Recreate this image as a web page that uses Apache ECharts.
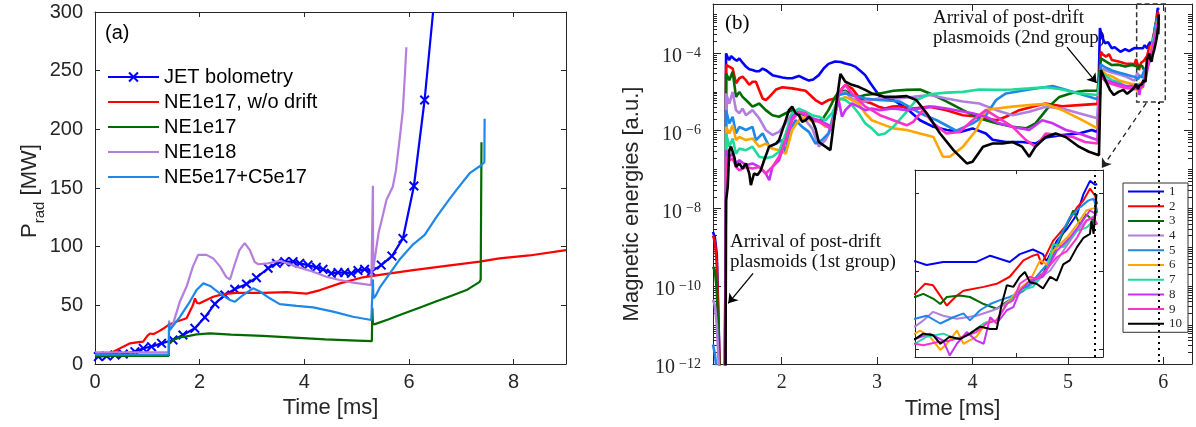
<!DOCTYPE html>
<html><head><meta charset="utf-8">
<script src="https://cdn.jsdelivr.net/npm/echarts@6.0.0/dist/echarts.min.js"></script>
<style>html,body{margin:0;padding:0;background:#fff}#c{width:1196px;height:427px}</style>
</head><body><div id="c"></div>
<script>
// ---------------- Panel (a): radiated power [MW] vs time [ms] ----------------
const leftXTicks = [0, 2, 4, 6, 8];
const leftYTicks = [0, 50, 100, 150, 200, 250, 300];
const jetBolometry = [[0.064,6.3],[0.223,6.8],[0.382,7.7],[0.54,8.5],[0.763,10.5],[0.922,13.4],[1.08,14.8],[1.272,17.6],[1.49,20.5],[1.68,24.7],[1.908,30.4],[2.099,39.8],[2.29,51.2],[2.48,58.8],[2.67,63.7],[2.894,68.2],[3.085,73.6],[3.308,81.6],[3.467,85.8],[3.626,87.2],[3.785,87.2],[3.912,85.8],[4.07,84.3],[4.23,82.4],[4.357,80.7],[4.516,77.3],[4.643,77.9],[4.77,77.9],[4.898,77.3],[5.025,79.6],[5.152,80.7],[5.28,78.7],[5.47,84.3],[5.674,92],[5.884,107],[6.094,151.7],[6.298,225],[6.46,300]];
const ne1e17NoDrift = [[0,8],[0.3,9],[0.35,10.5],[0.54,14.8],[0.67,17.6],[0.8,18.5],[0.92,19],[1.0,24],[1.05,26],[1.12,25.5],[1.21,27.6],[1.3,30],[1.4,33.2],[1.55,36],[1.75,39],[1.81,44.6],[1.87,50],[1.91,55.9],[1.95,52],[2.0,51.7],[2.13,54.5],[2.26,57.3],[2.45,59.5],[2.7,60.6],[3.21,60.6],[3.66,61.2],[4.04,60],[4.29,62.8],[4.68,68.7],[5.12,73.9],[5.44,75.9],[6.08,80],[6.71,83.6],[7.35,87.2],[7.73,90],[8.3,92.5],[9.0,97]];
const ne1e17 = [[0,7],[1.41,7],[1.415,20],[1.43,17.5],[1.49,20.5],[1.62,22.7],[1.8,24],[1.94,25.3],[2.2,26.1],[2.6,25],[3.2,24],[3.8,22.5],[4.4,21],[5.0,20],[5.29,19.5],[5.30,48],[5.31,34],[5.35,34],[5.6,38],[5.9,43],[6.2,48],[6.5,53],[6.8,58],[7.1,63],[7.35,70],[7.37,72],[7.385,189]];
const ne1e18 = [[0,10],[1.41,10],[1.415,37],[1.43,30],[1.49,34],[1.62,53],[1.75,66],[1.87,83],[1.97,93],[2.13,93],[2.26,90],[2.39,83],[2.51,74],[2.58,72],[2.67,85],[2.76,97],[2.86,103],[2.96,97],[3.05,87],[3.12,85],[3.3,85.8],[3.53,88],[3.85,83],[4.17,78.6],[4.42,74.4],[4.67,71.6],[4.93,69.3],[5.28,67.3],[5.30,67],[5.31,152],[5.315,80],[5.33,85],[5.42,112],[5.48,123],[5.57,140],[5.69,151],[5.75,165],[5.82,191],[5.88,215],[5.92,245],[5.95,270]];
const ne5e17c5e17 = [[0,8],[1.41,8],[1.415,35],[1.43,29],[1.62,40],[1.81,53],[1.94,63],[2.07,68.7],[2.2,66.5],[2.39,60],[2.58,54.5],[2.67,53],[2.83,58.8],[3.02,64.5],[3.15,61.8],[3.34,56],[3.53,51],[3.85,49.5],[4.17,48.3],[4.55,44.6],[4.93,40.3],[5.28,37.5],[5.30,37],[5.31,72],[5.32,56],[5.36,58],[5.44,65],[5.63,77],[5.82,89],[6.08,102],[6.3,110],[6.52,125],[6.78,141],[6.9,148],[7.16,162.6],[7.385,169.6],[7.44,172],[7.445,209]];
const leftNames = ['JET bolometry','NE1e17, w/o drift','NE1e17','NE1e18','NE5e17+C5e17'];
const leftColors = ['#0000FF','#FF0000','#006B00','#B57EDC','#1E88E8'];

// ---------------- Panel (b): log10 of magnetic energies [a.u.] vs time [ms] ----------------
const rightXTicks = [2, 3, 4, 5, 6];
const rightYLabelExp = [-12, -10, -8, -6, -4];
const insetXTicks = [5.84];
const insetYTicks = [-5, -4, -3];
const mode1 = [[1.28,-8.6],[1.30,-8.75],[1.32,-9.2],[1.36,-13],[1.405,-13],[1.417,-4.01],[1.435,-4.12],[1.451,-4.18],[1.47,-4.08],[1.50,-4.15],[1.53,-4.2],[1.556,-4.14],[1.59,-4.25],[1.625,-4.35],[1.66,-4.42],[1.694,-4.44],[1.73,-4.47],[1.764,-4.47],[1.80,-4.40],[1.84,-4.45],[1.903,-4.57],[1.95,-4.6],[2.007,-4.63],[2.06,-4.65],[2.11,-4.65],[2.18,-4.59],[2.23,-4.65],[2.285,-4.71],[2.33,-4.68],[2.389,-4.57],[2.44,-4.40],[2.49,-4.28],[2.56,-4.22],[2.62,-4.23],[2.667,-4.27],[2.72,-4.30],[2.77,-4.35],[2.82,-4.45],[2.875,-4.57],[2.93,-4.78],[2.98,-4.95],[3.03,-5.12],[3.17,-5.21],[3.31,-5.43],[3.45,-5.73],[3.59,-5.90],[3.73,-5.98],[3.87,-6.03],[4.0,-5.94],[4.14,-6.07],[4.21,-6.23],[4.35,-6.29],[4.52,-6.29],[4.66,-6.33],[4.77,-6.17],[4.94,-6.11],[5.115,-6.07],[5.25,-5.98],[5.31,-6.03],[5.335,-3.36],[5.36,-3.62],[5.39,-3.75],[5.42,-3.72],[5.46,-3.88],[5.49,-3.85],[5.51,-3.84],[5.55,-3.97],[5.60,-3.90],[5.64,-3.95],[5.67,-3.91],[5.70,-3.87],[5.716,-3.92],[5.739,-3.88],[5.785,-3.88],[5.804,-3.80],[5.831,-3.88],[5.845,-3.78],[5.863,-3.72],[5.877,-3.78],[5.882,-3.87],[5.896,-3.61],[5.91,-3.46],[5.924,-3.27],[5.933,-3.01],[5.942,-2.84],[5.949,-2.89],[5.952,-2.88]];
const mode2 = [[1.28,-8.7],[1.30,-8.85],[1.32,-9.4],[1.36,-13],[1.405,-13],[1.417,-4.31],[1.451,-4.35],[1.486,-4.40],[1.521,-4.78],[1.556,-4.65],[1.59,-4.61],[1.625,-4.70],[1.66,-4.82],[1.694,-4.74],[1.73,-4.74],[1.764,-4.95],[1.80,-5.17],[1.833,-5.21],[1.87,-5.13],[1.94,-4.94],[2.007,-4.88],[2.11,-4.91],[2.25,-4.97],[2.354,-5.21],[2.42,-5.31],[2.49,-5.21],[2.56,-5.17],[2.632,-4.91],[2.667,-4.82],[2.736,-4.91],[2.806,-5.13],[2.875,-5.25],[2.944,-5.30],[3.014,-5.38],[3.083,-5.43],[3.153,-5.38],[3.22,-5.37],[3.378,-5.43],[3.55,-5.38],[3.726,-5.47],[3.90,-5.60],[4.07,-5.64],[4.25,-5.73],[4.35,-5.64],[4.49,-5.47],[4.63,-5.38],[4.767,-5.30],[4.94,-5.37],[5.115,-5.34],[5.31,-5.31],[5.345,-3.97],[5.37,-4.05],[5.40,-4.09],[5.43,-4.03],[5.46,-4.18],[5.53,-4.22],[5.60,-4.27],[5.67,-4.28],[5.70,-4.29],[5.714,-4.16],[5.725,-4.18],[5.739,-4.37],[5.744,-4.44],[5.758,-4.31],[5.767,-4.25],[5.795,-4.20],[5.813,-4.16],[5.831,-4.07],[5.85,-3.86],[5.863,-3.80],[5.87,-3.78],[5.875,-3.91],[5.891,-3.61],[5.91,-3.40],[5.924,-3.18],[5.933,-3.09],[5.942,-2.94],[5.949,-3.03],[5.952,-3.14]];
const mode3 = [[1.28,-9.5],[1.30,-9.6],[1.32,-10.1],[1.36,-13],[1.405,-13],[1.417,-4.52],[1.451,-4.70],[1.486,-4.48],[1.521,-5.13],[1.556,-5.0],[1.59,-5.13],[1.625,-5.21],[1.694,-5.38],[1.764,-5.30],[1.833,-5.47],[1.903,-5.60],[1.972,-5.64],[2.042,-5.55],[2.11,-5.47],[2.18,-5.55],[2.25,-5.60],[2.354,-5.73],[2.42,-5.73],[2.49,-5.47],[2.56,-5.13],[2.597,-5.0],[2.667,-4.97],[2.736,-5.08],[2.806,-5.13],[2.875,-5.08],[2.944,-5.06],[3.03,-5.04],[3.17,-4.97],[3.31,-4.95],[3.45,-4.94],[3.59,-5.08],[3.73,-5.25],[3.90,-5.47],[4.07,-5.68],[4.25,-5.81],[4.42,-5.90],[4.56,-5.94],[4.66,-5.81],[4.80,-5.38],[4.91,-5.13],[5.05,-5.02],[5.18,-4.97],[5.31,-4.97],[5.345,-4.14],[5.40,-4.22],[5.46,-4.31],[5.53,-4.30],[5.60,-4.35],[5.67,-4.31],[5.70,-4.33],[5.7115,-4.29],[5.725,-4.35],[5.735,-4.42],[5.744,-4.33],[5.762,-4.31],[5.776,-4.33],[5.795,-4.42],[5.813,-4.48],[5.822,-4.42],[5.841,-4.31],[5.854,-4.20],[5.877,-4.03],[5.896,-3.69],[5.91,-3.40],[5.919,-3.22],[5.928,-3.40],[5.937,-3.27],[5.947,-3.35],[5.952,-3.22]];
const mode4 = [[1.28,-10.35],[1.30,-10.5],[1.32,-11.0],[1.36,-13],[1.405,-13],[1.417,-5.04],[1.451,-5.30],[1.486,-5.0],[1.521,-5.47],[1.556,-5.55],[1.59,-5.43],[1.625,-5.60],[1.694,-5.47],[1.764,-5.68],[1.833,-5.98],[1.903,-6.11],[1.972,-6.03],[2.042,-5.81],[2.11,-5.55],[2.18,-5.60],[2.25,-5.73],[2.319,-5.94],[2.389,-6.41],[2.458,-6.24],[2.528,-5.90],[2.597,-5.04],[2.667,-5.0],[2.736,-5.17],[2.806,-5.25],[2.875,-5.25],[2.944,-5.21],[3.083,-5.13],[3.205,-5.17],[3.378,-5.13],[3.55,-5.08],[3.726,-5.17],[3.90,-5.25],[4.07,-5.30],[4.25,-5.47],[4.42,-5.60],[4.594,-5.51],[4.767,-5.38],[4.94,-5.43],[5.115,-5.55],[5.31,-5.68],[5.345,-4.40],[5.40,-4.45],[5.46,-4.50],[5.53,-4.55],[5.60,-4.60],[5.67,-4.68],[5.70,-4.71],[5.7115,-4.63],[5.725,-4.52],[5.739,-4.57],[5.758,-4.61],[5.785,-4.57],[5.808,-4.50],[5.822,-4.44],[5.831,-4.37],[5.85,-4.25],[5.868,-4.12],[5.887,-3.99],[5.905,-3.74],[5.924,-3.48],[5.937,-3.35],[5.952,-3.27]];
const mode5 = [[1.28,-11.5],[1.30,-11.75],[1.32,-12.2],[1.36,-13],[1.405,-13],[1.417,-5.47],[1.451,-5.81],[1.486,-5.64],[1.521,-6.07],[1.556,-5.90],[1.625,-5.98],[1.694,-5.90],[1.73,-6.24],[1.80,-6.07],[1.87,-6.41],[1.94,-6.33],[2.007,-6.24],[2.042,-6.59],[2.076,-6.03],[2.146,-5.73],[2.215,-5.90],[2.285,-6.03],[2.354,-6.33],[2.42,-6.24],[2.49,-6.07],[2.597,-5.08],[2.667,-5.04],[2.736,-5.08],[2.875,-5.17],[3.014,-5.21],[3.153,-5.23],[3.24,-5.25],[3.45,-5.55],[3.625,-5.73],[3.83,-6.0],[4.0,-5.81],[4.14,-5.60],[4.247,-5.21],[4.35,-5.04],[4.594,-4.94],[4.84,-4.85],[5.05,-5.0],[5.31,-5.19],[5.345,-4.30],[5.40,-4.38],[5.46,-4.45],[5.53,-4.50],[5.60,-4.55],[5.67,-4.60],[5.70,-4.61],[5.716,-4.57],[5.735,-4.67],[5.753,-4.59],[5.767,-4.54],[5.776,-4.63],[5.79,-4.50],[5.804,-4.42],[5.8175,-4.37],[5.831,-4.33],[5.85,-4.25],[5.868,-4.07],[5.887,-3.86],[5.90,-3.57],[5.914,-3.31],[5.928,-3.18],[5.94,-3.09],[5.947,-3.07],[5.952,-3.22]];
const mode6 = [[1.28,-12.5],[1.36,-13],[1.405,-13],[1.417,-5.90],[1.451,-6.07],[1.486,-5.86],[1.521,-6.24],[1.556,-6.16],[1.625,-6.24],[1.694,-6.20],[1.764,-6.41],[1.833,-6.33],[1.903,-6.46],[1.972,-6.50],[2.042,-6.59],[2.11,-5.98],[2.18,-5.73],[2.25,-5.64],[2.319,-5.77],[2.389,-5.73],[2.458,-5.90],[2.528,-5.86],[2.597,-5.21],[2.667,-5.13],[2.736,-5.21],[2.806,-5.30],[2.875,-5.55],[2.944,-5.73],[3.03,-5.81],[3.17,-5.94],[3.31,-5.98],[3.45,-6.07],[3.59,-6.16],[3.69,-6.67],[3.76,-6.67],[3.90,-6.41],[4.04,-5.98],[4.14,-5.47],[4.25,-5.43],[4.42,-5.38],[4.594,-5.34],[4.767,-5.31],[4.94,-5.47],[5.115,-5.68],[5.31,-5.94],[5.345,-4.45],[5.40,-4.55],[5.46,-4.60],[5.53,-4.70],[5.60,-4.75],[5.67,-4.80],[5.70,-4.80],[5.707,-4.76],[5.7207,-4.84],[5.735,-5.01],[5.744,-4.93],[5.758,-4.76],[5.767,-4.93],[5.785,-4.84],[5.799,-4.65],[5.813,-4.63],[5.827,-4.42],[5.841,-4.25],[5.859,-4.12],[5.873,-3.86],[5.882,-3.91],[5.891,-3.74],[5.91,-3.57],[5.924,-3.40],[5.937,-3.22],[5.951,-3.18]];
const mode7 = [[1.28,-12.5],[1.36,-13],[1.405,-13],[1.417,-6.07],[1.451,-6.41],[1.486,-6.20],[1.521,-6.59],[1.556,-6.46],[1.625,-6.50],[1.694,-6.41],[1.764,-6.67],[1.833,-6.71],[1.903,-6.67],[1.972,-6.54],[2.042,-6.07],[2.11,-5.55],[2.18,-5.43],[2.25,-5.51],[2.319,-5.60],[2.389,-5.64],[2.458,-5.73],[2.528,-5.55],[2.597,-5.17],[2.667,-5.21],[2.736,-5.34],[2.806,-5.55],[2.875,-5.81],[2.944,-5.94],[3.014,-6.11],[3.083,-6.07],[3.17,-5.90],[3.31,-5.51],[3.41,-5.21],[3.55,-5.06],[3.726,-5.02],[3.90,-5.0],[4.07,-4.94],[4.25,-4.95],[4.42,-4.94],[4.594,-4.91],[4.767,-4.88],[4.94,-4.94],[5.115,-5.04],[5.31,-5.08],[5.345,-4.50],[5.40,-4.60],[5.46,-4.70],[5.53,-4.75],[5.60,-4.85],[5.67,-4.90],[5.70,-4.93],[5.716,-4.84],[5.739,-4.80],[5.758,-4.87],[5.776,-4.80],[5.795,-4.67],[5.813,-4.63],[5.827,-4.42],[5.845,-4.25],[5.863,-4.20],[5.882,-3.99],[5.891,-3.65],[5.905,-3.69],[5.924,-3.48],[5.937,-3.44],[5.947,-3.35],[5.952,-3.40]];
const mode8 = [[1.28,-12.5],[1.36,-13],[1.405,-13],[1.417,-6.50],[1.451,-6.67],[1.486,-6.59],[1.521,-6.84],[1.556,-6.76],[1.625,-6.89],[1.694,-6.84],[1.764,-6.93],[1.833,-7.10],[1.87,-7.27],[1.903,-6.93],[1.972,-6.76],[2.042,-6.24],[2.11,-5.64],[2.18,-5.51],[2.25,-5.60],[2.319,-5.68],[2.389,-5.73],[2.458,-5.81],[2.528,-5.90],[2.597,-5.21],[2.632,-5.64],[2.667,-5.47],[2.736,-5.30],[2.806,-5.38],[2.875,-5.47],[2.944,-5.43],[3.03,-5.47],[3.17,-5.43],[3.31,-5.47],[3.45,-5.43],[3.59,-5.38],[3.726,-5.43],[3.865,-5.49],[4.0,-5.55],[4.14,-5.64],[4.28,-5.81],[4.42,-5.90],[4.594,-5.98],[4.73,-5.73],[4.84,-5.81],[4.98,-5.98],[5.115,-6.07],[5.31,-6.24],[5.345,-4.55],[5.40,-4.70],[5.46,-4.75],[5.53,-4.80],[5.60,-4.85],[5.67,-4.85],[5.70,-4.87],[5.7207,-4.80],[5.739,-4.89],[5.748,-5.08],[5.758,-4.93],[5.7715,-4.78],[5.785,-4.89],[5.795,-4.93],[5.804,-4.59],[5.813,-4.67],[5.827,-4.50],[5.836,-4.46],[5.845,-4.25],[5.859,-4.12],[5.877,-4.07],[5.896,-3.74],[5.914,-3.57],[5.928,-3.40],[5.942,-3.22],[5.951,-3.27]];
const mode9 = [[1.28,-12.5],[1.36,-13],[1.405,-13],[1.417,-6.67],[1.451,-6.76],[1.486,-6.71],[1.521,-6.93],[1.556,-7.02],[1.625,-6.93],[1.694,-6.97],[1.764,-6.93],[1.833,-7.10],[1.903,-6.93],[1.972,-6.67],[2.042,-6.24],[2.11,-5.73],[2.18,-5.51],[2.25,-5.55],[2.319,-5.73],[2.389,-5.77],[2.458,-5.86],[2.528,-5.98],[2.597,-5.04],[2.667,-4.82],[2.736,-5.04],[2.806,-5.21],[2.875,-5.38],[2.944,-5.47],[3.03,-5.60],[3.17,-5.73],[3.31,-5.86],[3.378,-5.77],[3.48,-5.47],[3.59,-5.81],[3.726,-6.07],[3.865,-6.03],[4.0,-5.73],[4.14,-5.47],[4.28,-5.68],[4.42,-5.90],[4.56,-6.24],[4.66,-6.41],[4.767,-6.07],[4.91,-6.11],[5.05,-6.16],[5.18,-6.29],[5.31,-6.33],[5.345,-4.60],[5.40,-4.75],[5.46,-4.80],[5.53,-4.85],[5.60,-4.90],[5.67,-4.92],[5.70,-4.93],[5.7115,-4.95],[5.73,-4.91],[5.748,-4.89],[5.767,-4.84],[5.785,-4.78],[5.799,-4.67],[5.813,-4.63],[5.827,-4.42],[5.836,-4.37],[5.845,-4.16],[5.859,-4.07],[5.868,-4.10],[5.877,-4.03],[5.896,-3.82],[5.91,-3.74],[5.924,-3.57],[5.937,-3.35],[5.947,-3.31],[5.952,-3.40]];
const mode10 = [[1.28,-12.5],[1.36,-13],[1.41,-13],[1.417,-7.79],[1.434,-7.45],[1.451,-6.50],[1.469,-6.41],[1.503,-6.67],[1.521,-6.93],[1.556,-6.84],[1.59,-6.97],[1.625,-6.84],[1.66,-7.10],[1.677,-7.40],[1.71,-7.10],[1.746,-7.14],[1.78,-7.02],[1.816,-6.76],[1.868,-6.41],[1.94,-6.33],[1.972,-6.24],[2.042,-5.73],[2.076,-5.47],[2.11,-5.38],[2.146,-5.55],[2.18,-5.60],[2.215,-5.77],[2.25,-5.73],[2.285,-5.64],[2.319,-5.73],[2.354,-5.94],[2.389,-6.29],[2.458,-6.41],[2.51,-6.50],[2.563,-5.47],[2.615,-4.54],[2.667,-4.74],[2.736,-4.82],[2.806,-4.87],[2.875,-4.95],[2.944,-5.04],[3.014,-5.08],[3.083,-5.13],[3.19,-5.13],[3.31,-5.11],[3.41,-5.21],[3.52,-5.55],[3.66,-6.07],[3.80,-6.50],[3.94,-6.84],[4.0,-6.80],[4.11,-6.41],[4.21,-6.33],[4.316,-6.33],[4.42,-6.29],[4.52,-6.41],[4.594,-6.67],[4.66,-6.41],[4.767,-6.16],[4.87,-6.07],[4.976,-6.16],[5.115,-6.41],[5.22,-6.54],[5.325,-6.63],[5.345,-4.44],[5.39,-4.69],[5.44,-4.95],[5.48,-5.08],[5.53,-5.0],[5.58,-4.95],[5.62,-5.05],[5.67,-4.95],[5.70,-4.87],[5.7115,-4.80],[5.725,-4.82],[5.735,-4.93],[5.748,-4.84],[5.762,-4.87],[5.776,-4.80],[5.79,-4.71],[5.804,-4.74],[5.813,-4.74],[5.82,-4.42],[5.827,-4.18],[5.836,-4.20],[5.845,-4.07],[5.852,-4.01],[5.859,-4.14],[5.868,-4.16],[5.877,-4.22],[5.887,-4.07],[5.896,-4.12],[5.905,-3.91],[5.914,-3.86],[5.924,-3.69],[5.933,-3.57],[5.942,-3.52],[5.944,-3.35],[5.947,-3.52],[5.951,-3.01]];
const modeNames = ['1','2','3','4','5','6','7','8','9','10'];
const modeColors = ['#0000FF','#FF0000','#006B00','#B27FE0','#1E88E8','#FFA500','#1EDB9A','#C832F5','#FF32C8','#000000'];
const modes = [mode1,mode2,mode3,mode4,mode5,mode6,mode7,mode8,mode9,mode10];

// ---------------- styling ----------------
const SANS = "'Liberation Sans', Arial, Helvetica, sans-serif";
const SERIF = "'Liberation Serif', 'Times New Roman', Times, serif";
const AX = '#262626';
const NOFILL = 'rgba(0,0,0,0)';

// log-decade minor tick positions (k x 10^n) for the log axis of panel (b)
const minorTicks = [];
for (let n = -12; n <= -3; n++) for (let k = 1; k <= 9; k++) { const v = n + Math.log10(k); if (v <= -2.74) minorTicks.push(v); }

const chart = echarts.init(document.getElementById('c'), null, {renderer: 'canvas'});

function axisBase(grid, min, max, extra) {
  return Object.assign({
    gridIndex: grid, type: 'value', min: min, max: max, scale: true,
    splitLine: {show: false},
    axisLine: {onZero: false, lineStyle: {color: AX, width: 1}},
    axisTick: {inside: true, length: 5, lineStyle: {color: AX, width: 1}},
    axisLabel: {show: false}
  }, extra);
}

const xAxes = [
  axisBase(0, 0, 9, {position: 'bottom',
    axisTick: {inside: true, length: 5, customValues: leftXTicks, lineStyle: {color: AX}},
    axisLabel: {show: true, customValues: leftXTicks, fontFamily: SANS, fontSize: 20, color: AX, margin: 8},
    name: 'Time [ms]', nameLocation: 'middle', nameGap: 32, nameTextStyle: {fontFamily: SANS, fontSize: 22, color: AX}}),
  axisBase(0, 0, 9, {position: 'top', axisTick: {inside: true, length: 5, customValues: leftXTicks, lineStyle: {color: AX}}}),
  axisBase(1, 1.28, 6.3, {position: 'bottom',
    axisTick: {inside: true, length: 7, customValues: rightXTicks, lineStyle: {color: AX}},
    axisLabel: {show: true, customValues: rightXTicks, fontFamily: SERIF, fontSize: 20, color: AX, margin: 9},
    name: 'Time [ms]', nameLocation: 'middle', nameGap: 31, nameTextStyle: {fontFamily: SANS, fontSize: 22, color: AX}}),
  axisBase(1, 1.28, 6.3, {position: 'top', axisTick: {inside: true, length: 7, customValues: rightXTicks, lineStyle: {color: AX}}}),
  axisBase(2, 5.70, 5.96, {position: 'bottom', axisTick: {inside: true, length: 4, customValues: insetXTicks, lineStyle: {color: AX}}}),
  axisBase(2, 5.70, 5.96, {position: 'top', axisTick: {inside: true, length: 4, customValues: insetXTicks, lineStyle: {color: AX}}})
];

const yAxes = [
  axisBase(0, 0, 300, {position: 'left',
    axisTick: {inside: true, length: 5, customValues: leftYTicks, lineStyle: {color: AX}},
    axisLabel: {show: true, customValues: leftYTicks, fontFamily: SANS, fontSize: 20, color: AX, margin: 12}}),
  axisBase(0, 0, 300, {position: 'right', axisTick: {inside: true, length: 5, customValues: leftYTicks, lineStyle: {color: AX}}}),
  axisBase(1, -12, -2.74, {position: 'left',
    axisTick: {inside: true, length: 8, customValues: rightYLabelExp, lineStyle: {color: AX}},
    axisLabel: {show: true, customValues: rightYLabelExp, margin: 12, padding: [8, 0, 0, 0],
      formatter: v => '{b|10}{s|\u2212' + Math.abs(v) + '}',
      rich: {b: {fontFamily: SERIF, fontSize: 20, lineHeight: 22, verticalAlign: 'middle', color: AX},
             s: {fontFamily: SERIF, fontSize: 14, lineHeight: 10, verticalAlign: 'top', color: AX, padding: [0, 0, 0, 4]}}}}),
  axisBase(1, -12, -2.74, {position: 'left', axisLine: {show: false},
    axisTick: {inside: true, length: 4, customValues: minorTicks, lineStyle: {color: AX}}}),
  axisBase(1, -12, -2.74, {position: 'right',
    axisTick: {inside: true, length: 8, customValues: rightYLabelExp, lineStyle: {color: AX}}}),
  axisBase(1, -12, -2.74, {position: 'right', axisLine: {show: false},
    axisTick: {inside: true, length: 4, customValues: minorTicks, lineStyle: {color: AX}}}),
  axisBase(2, -5.1, -2.7, {position: 'left', axisTick: {inside: true, length: 4, customValues: insetYTicks, lineStyle: {color: AX}}}),
  axisBase(2, -5.1, -2.7, {position: 'right', axisTick: {inside: true, length: 4, customValues: insetYTicks, lineStyle: {color: AX}}})
];

const X_MARK = 'path://M0,1.4L1.4,0L5,3.6L8.6,0L10,1.4L6.4,5L10,8.6L8.6,10L5,6.4L1.4,10L0,8.6L3.6,5Z';
const leftData = [jetBolometry, ne1e17NoDrift, ne1e17, ne1e18, ne5e17c5e17];
const series = [];
leftData.forEach((d, i) => {
  const s = {name: leftNames[i], type: 'line', xAxisIndex: 0, yAxisIndex: 0, data: d,
    lineStyle: {width: 2.2, color: leftColors[i]}, itemStyle: {color: NOFILL, borderWidth: 0},
    symbol: 'none', z: 3 + i, silent: true};
  if (i === 0) {
    s.symbol = X_MARK; s.symbolSize = 10; s.showSymbol = true; s.showAllSymbol = true;
    s.itemStyle = {color: leftColors[0], borderWidth: 0};
    s.data = d.map((p, j) => j === d.length - 1 ? {value: p, symbol: 'none'} : p);
  }
  series.push(s);
});
modes.forEach((d, i) => {
  series.push({name: modeNames[i], type: 'line', xAxisIndex: 2, yAxisIndex: 2, data: d, symbol: 'none',
    lineStyle: {width: 2.6, color: modeColors[i]}, itemStyle: {color: NOFILL, borderWidth: 0}, z: 3 + i, silent: true});
});
modes.forEach((d, i) => {
  series.push({name: modeNames[i], type: 'line', xAxisIndex: 4, yAxisIndex: 6, data: d, symbol: 'none',
    lineStyle: {width: 2, color: modeColors[i]}, itemStyle: {color: NOFILL, borderWidth: 0}, z: 3 + i, silent: true});
});
// annotation marks (in data coordinates of panel (b))
const arrowStyle = {color: '#000', width: 1.3, type: 'solid'};
series[5 + 9].markLine = {silent: true, animation: false, symbol: ['none', 'arrow'], symbolSize: 9, label: {show: false},
  itemStyle: {color: '#000'},
  data: [
    [{coord: [4.99, -3.85], lineStyle: arrowStyle, itemStyle: {color: '#000'}}, {coord: [5.30, -4.77]}],
    [{coord: [1.70, -9.67], lineStyle: arrowStyle, itemStyle: {color: '#000'}}, {coord: [1.44, -10.44]}],
    [{coord: [5.82, -5.29], lineStyle: {color: '#222', width: 1.3, type: [5, 4]}, itemStyle: {color: '#000'}}, {coord: [5.355, -6.96]}],
    [{coord: [5.948, -5.26], symbol: 'none', lineStyle: {color: '#000', width: 2, type: [2, 4]}}, {coord: [5.948, -12], symbol: 'none'}]
  ]};
series[5 + 9].markArea = {silent: true, label: {show: false},
  itemStyle: {color: 'rgba(0,0,0,0)', borderColor: '#333', borderWidth: 1.5, borderType: [5, 3]},
  data: [[{coord: [5.72, -2.74]}, {coord: [6.02, -5.26]}]]};
series[15 + 9].markLine = {silent: true, animation: false, symbol: ['none', 'none'], label: {show: false},
  data: [[{coord: [5.948, -5.1], lineStyle: {color: '#000', width: 2, type: [2, 4]}}, {coord: [5.948, -2.7]}]]};

const option = {
  animation: false,
  backgroundColor: '#fff',
  grid: [
    {left: 95, top: 12, width: 471, height: 352},
    {left: 713, top: 4, width: 479, height: 360},
    {left: 915, top: 170, width: 188, height: 187, show: true, backgroundColor: '#fff', borderWidth: 0}
  ],
  xAxis: xAxes,
  yAxis: yAxes,
  legend: [
    {data: leftNames, orient: 'vertical', left: 107, top: 67, itemWidth: 51, itemHeight: 13, itemGap: 5,
     padding: 0, selectedMode: false, textStyle: {fontFamily: SANS, fontSize: 20, lineHeight: 20, color: '#000'}},
    {data: modeNames, orient: 'vertical', left: 1123, top: 183, itemWidth: 36, itemHeight: 14, itemGap: 1.7,
     padding: [2, 6, 2, 4], borderColor: '#333', borderWidth: 1, backgroundColor: '#fff', selectedMode: false,
     lineStyle: {width: 2}, textStyle: {fontFamily: SERIF, fontSize: 13, color: AX}}
  ],
  graphic: [
    {type: 'text', x: 105, y: 33, style: {text: '(a)', fontFamily: SANS, fontSize: 20, fill: '#000', verticalAlign: 'middle'}},
    {type: 'text', x: 725, y: 23, style: {text: '(b)', fontFamily: SERIF, fontSize: 21, fill: '#000', verticalAlign: 'middle'}},
    {type: 'text', x: 30, y: 191, rotation: Math.PI / 2,
     style: {text: '{p|P}{s|rad}{p| [MW]}', align: 'center', verticalAlign: 'middle',
       rich: {p: {fontFamily: SANS, fontSize: 22, lineHeight: 34, verticalAlign: 'middle', fill: AX},
              s: {fontFamily: SANS, fontSize: 15, lineHeight: 12, verticalAlign: 'bottom', fill: AX}}}},
    {type: 'text', x: 632, y: 204, rotation: Math.PI / 2,
     style: {text: 'Magnetic energies [a.u.]', fontFamily: SANS, fontSize: 22, fill: AX, align: 'center', verticalAlign: 'middle'}},
    {type: 'text', x: 933, y: 28, style: {text: 'Arrival of post-drift\nplasmoids (2nd group)', fontFamily: SERIF, fontSize: 19, lineHeight: 20, fill: '#111', align: 'left', verticalAlign: 'middle'}},
    {type: 'text', x: 730, y: 252, style: {text: 'Arrival of post-drift\nplasmoids (1st group)', fontFamily: SERIF, fontSize: 19, lineHeight: 20, fill: '#111', align: 'left', verticalAlign: 'middle'}}
  ],
  series: series
};
chart.setOption(option);
</script></body></html>
